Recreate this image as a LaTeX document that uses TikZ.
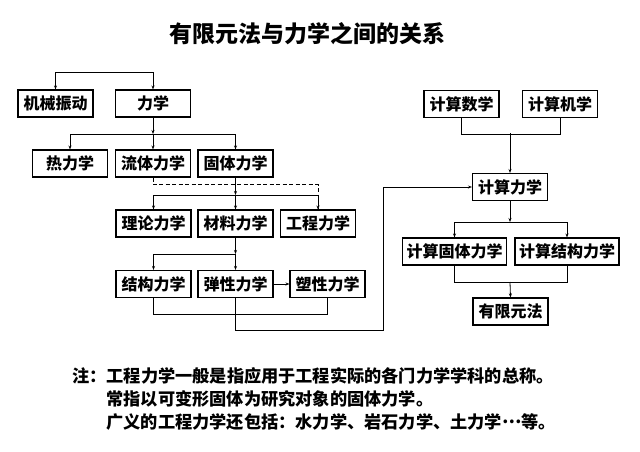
\documentclass[tikz,border=0pt]{standalone}
\usepackage{fontspec}
\setmainfont{Noto Sans CJK SC}
\usetikzlibrary{arrows.meta}
\begin{document}
\begin{tikzpicture}[x=1pt,y=-1pt,
  box/.style={draw,line width=1.1pt,minimum height=27pt,minimum width=75pt,inner sep=0pt,
    font=\fontsize{16}{16}\selectfont\bfseries},
  wbox/.style={box,minimum width=104pt},
  conn/.style={line width=0.8pt},
  arr/.style={conn,-{Stealth[length=4pt,width=3pt]}},
  darr/.style={conn,{Stealth[length=4pt,width=3pt]}-{Stealth[length=4pt,width=3pt]}}]
\useasboundingbox (0,0) rectangle (640,452);
\fill[white] (0,0) rectangle (640,452);
\node[font=\fontsize{23}{23}\selectfont\bfseries] (title) at (307,34) {有限元法与力学之间的关系};
% left tree
\node[box] (jx) at (55.5,103.5) {机械振动};
\node[box] (lx) at (153,103.5) {力学};
\node[box] (rl) at (70,163.5) {热力学};
\node[box] (lt) at (153,163.5) {流体力学};
\node[box] (gt) at (235.5,163.5) {固体力学};
\node[box] (ll) at (153.5,223.5) {理论力学};
\node[box] (cl) at (235.5,223.5) {材料力学};
\node[box] (gc) at (318,223.5) {工程力学};
\node[box] (jg) at (153.5,284) {结构力学};
\node[box] (tx) at (235.5,284) {弹性力学};
\node[box] (sx) at (327.5,284) {塑性力学};
% right tree
\node[box] (jsx) at (461.5,104) {计算数学};
\node[box] (jsj) at (560,104) {计算机学};
\node[box] (jsl) at (510,187) {计算力学};
\node[wbox] (jsgt) at (454.5,251.5) {计算固体力学};
\node[wbox] (jsjg) at (567,251.5) {计算结构力学};
\node[box] (yxy) at (510.5,311.5) {有限元法};
% notes
\node[anchor=north west,align=left,inner sep=0pt,
  font=\fontsize{17.2}{23}\selectfont\bfseries] (note) at (72,367)
  {注：工程力学一般是指应用于工程实际的各门力学学科的总称。\\
   \phantom{注：}常指以可变形固体为研究对象的固体力学。\\
   \phantom{注：}广义的工程力学还包括：水力学、岩石力学、土力学\raisebox{0.3em}{…}等。};
% connectors left
\draw[darr] (jx.north) -- ++(0,-17) -| (lx.north);
\coordinate (j1) at (153,134);
\draw[arr] (lx.south) -- (j1);
\draw[arr] (j1) -| (rl.north);
\draw[arr] (j1) -| (gt.north);
\draw[arr] (j1) -- (lt.north);
\draw[conn,dash pattern=on 4pt off 2.5pt] (lt.south) -- ++(0,7) -| (gc.north);
\coordinate (j2) at (235.5,195);
\draw[arr] (gt.south) -- (j2);
\draw[arr] (j2) -| (ll.north);
\draw[arr] (j2) -| (gc.north);
\draw[arr] (j2) -- (cl.north);
\coordinate (j3) at (235.5,254);
\draw[arr] (cl.south) -- (j3);
\draw[arr] (j3) -| (jg.north);
\draw[arr] (j3) -- (tx.north);
\draw[arr] (tx.east) -- (sx.west);
\draw[conn] (jg.south) -- ++(0,16) -| (sx.south);
\coordinate (fb) at (383,330);
\draw[arr] (tx.south) |- (fb) |- (jsl.west);
% connectors right
\coordinate (j4) at (510,133);
\draw[conn] (jsx.south) -- ++(0,16) -| (jsj.south);
\draw[arr] (j4) -- (jsl.north);
\coordinate (j5) at (510,222);
\draw[arr] (jsl.south) -- (j5);
\draw[arr] (j5) -| (jsgt.north);
\draw[arr] (j5) -| (jsjg.north);
\coordinate (j6) at (510,282);
\draw[conn] (jsgt.south) -- ++(0,17) -| (jsjg.south);
\draw[arr] (j6) -- (yxy.north);
\end{tikzpicture}
\end{document}
